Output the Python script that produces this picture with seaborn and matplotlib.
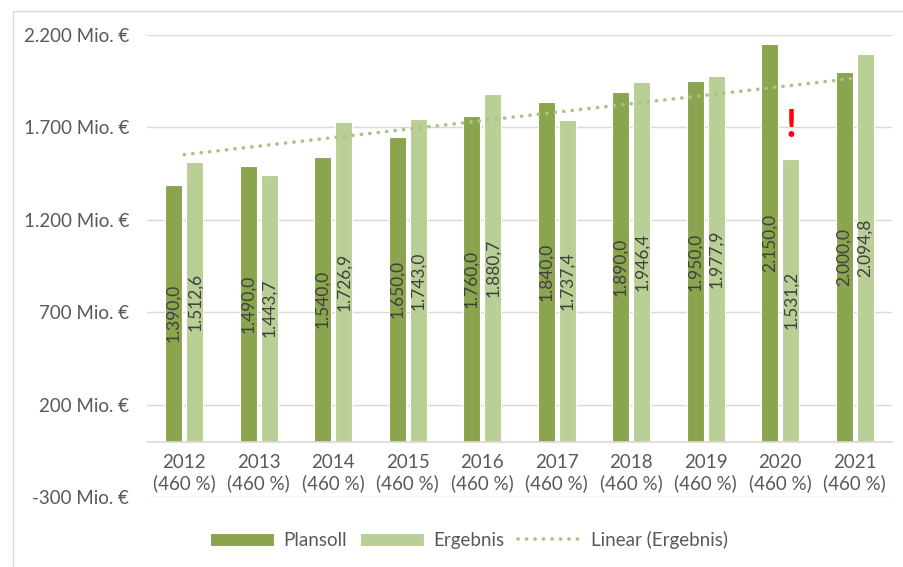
import numpy as np
import pandas as pd
import matplotlib.pyplot as plt
import seaborn as sns
from matplotlib.patches import Rectangle

# Werte aus dem Diagramm (Mio. €)
years = ["2012", "2013", "2014", "2015", "2016", "2017", "2018", "2019", "2020", "2021"]
quote = ["460 %"] * 10
plansoll = [1390.0, 1490.0, 1540.0, 1650.0, 1760.0, 1840.0, 1890.0, 1950.0, 2150.0, 2000.0]
ergebnis = [1512.6, 1443.7, 1726.9, 1743.0, 1880.7, 1737.4, 1946.4, 1977.9, 1531.2, 2094.8]
y_ticks = [-300, 200, 700, 1200, 1700, 2200]

DARK = "#8aa54e"
LIGHT = "#b9cf95"
TREND = "#a9c483"
GRID = "#d9d9d9"
TXT = "#595959"


def de_num(v, dec=1):
    s = f"{v:,.{dec}f}"
    return s.replace(",", "X").replace(".", ",").replace("X", ".")


sns.set_style("white")
plt.rcParams["font.family"] = ["Lato", "DejaVu Sans"]

df = pd.DataFrame({
    "Jahr": years * 2,
    "Wert": plansoll + ergebnis,
    "Serie": ["Plansoll"] * len(years) + ["Ergebnis"] * len(years),
})

fig = plt.figure(figsize=(9.04, 5.67), dpi=100)
ax = fig.add_axes([147 / 904, 1 - 497 / 567, (892 - 147) / 904, (497 - 35) / 567])

sns.barplot(data=df, x="Jahr", y="Wert", hue="Serie", order=years,
            hue_order=["Plansoll", "Ergebnis"], palette=[DARK, LIGHT],
            saturation=1, width=0.565, gap=0.19, edgecolor="white",
            linewidth=0.8, errorbar=None, ax=ax)

# Beschriftung in der Mitte der Balken
for cont, vals in zip(ax.containers, [plansoll, ergebnis]):
    ax.bar_label(cont, labels=[de_num(v) for v in vals], label_type="center",
                 rotation=90, fontsize=12.5, color="#404040")

# lineare Trendlinie fuer Ergebnis
xpos = np.arange(len(years))
coef = np.polyfit(xpos, ergebnis, 1)
trend, = ax.plot(xpos, np.polyval(coef, xpos), color=TREND, lw=2.6,
                 linestyle=(0, (0.05, 2.3)), dash_capstyle="round",
                 label="Linear (Ergebnis)")

ax.text(8 + 0.141, 1709, "!", color="#ff0000", fontsize=28, fontweight="bold",
        ha="center", va="center")

ax.set_xlim(-0.5, len(years) - 0.5)
ax.set_ylim(-300, 2200)
ax.set_yticks(y_ticks)
ax.set_yticklabels([de_num(v, 0) + " Mio. €" for v in y_ticks])
ax.set_xticks(xpos)
ax.set_xticklabels([f"{y}\n({q})" for y, q in zip(years, quote)])
ax.tick_params(axis="y", length=0, pad=13, labelsize=13.5, labelcolor=TXT)
ax.tick_params(axis="x", length=0, pad=9, labelsize=13.5, labelcolor=TXT)
ax.set_xlabel("")
ax.set_ylabel("")

ax.grid(axis="y", color=GRID, lw=1)
ax.set_axisbelow(True)
for s in ["top", "right", "left"]:
    ax.spines[s].set_visible(False)
ax.spines["bottom"].set_position(("data", 0))
ax.spines["bottom"].set_color(GRID)
ax.spines["bottom"].set_linewidth(1.2)

handles, labels = ax.get_legend_handles_labels()
ax.get_legend().remove()
fig.legend(handles[:2] + [trend], ["Plansoll", "Ergebnis", "Linear (Ergebnis)"],
           loc="center", bbox_to_anchor=(0.519, 1 - 540 / 567), ncol=3,
           frameon=False, fontsize=13.5, handlelength=3.4, handleheight=0.7,
           columnspacing=0.7, handletextpad=0.5, labelcolor=TXT)

# Rahmen des Diagrammbereichs
fig.add_artist(Rectangle((13 / 904, -0.1), 1.0, 1.1 - 11 / 567,
                         transform=fig.transFigure, fill=False,
                         edgecolor=GRID, lw=1))

fig.savefig("out.png", dpi=100)
